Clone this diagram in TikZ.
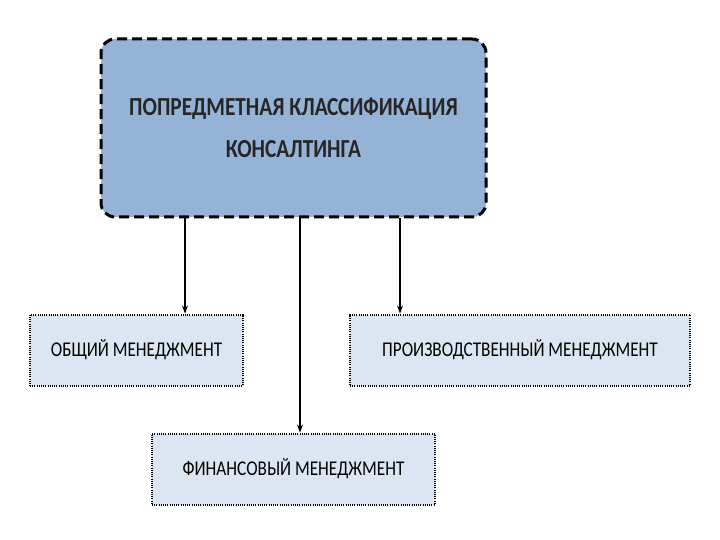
\documentclass[tikz,border=0pt]{standalone}
\usepackage{fontspec}
\usetikzlibrary{arrows.meta}
\setmainfont{Carlito}[FakeStretch=0.82]
\begin{document}
\begin{tikzpicture}[x=1pt,y=-1pt,
 sub/.style={draw=black,line width=2pt,dash pattern=on 1pt off 1.2pt,fill=sfill,inner sep=0pt,font=\fontsize{21}{24}\selectfont},
 arr/.style={-{Stealth[length=8pt,width=6pt]},line width=1.2pt}]
\definecolor{mfill}{HTML}{95B3D7}
\definecolor{sfill}{HTML}{DCE6F2}
\useasboundingbox (0,0) rectangle (720,540);
\node[draw=black,line width=3pt,dash pattern=on 10pt off 5pt,rounded corners=14pt,fill=mfill,minimum width=385pt,minimum height=178pt,align=center,font=\fontsize{26}{42}\selectfont\bfseries,text=black!85] (m) at (293.5,128) {ПОПРЕДМЕТНАЯ КЛАССИФИКАЦИЯ\\КОНСАЛТИНГА};
\node[sub,minimum width=213pt,minimum height=71pt] (a) at (136.5,350) {ОБЩИЙ МЕНЕДЖМЕНТ};
\node[sub,minimum width=340pt,minimum height=71pt] (c) at (520,350) {ПРОИЗВОДСТВЕННЫЙ МЕНЕДЖМЕНТ};
\node[sub,minimum width=283pt,minimum height=71pt] (b) at (293.5,469) {ФИНАНСОВЫЙ МЕНЕДЖМЕНТ};
\draw[arr] (m.south -| 185,0) -- (a.north -| 185,0);
\draw[arr] (m.south -| 300,0) -- (b.north -| 300,0);
\draw[arr] (m.south -| 400,0) -- (c.north -| 400,0);
\end{tikzpicture}
\end{document}
